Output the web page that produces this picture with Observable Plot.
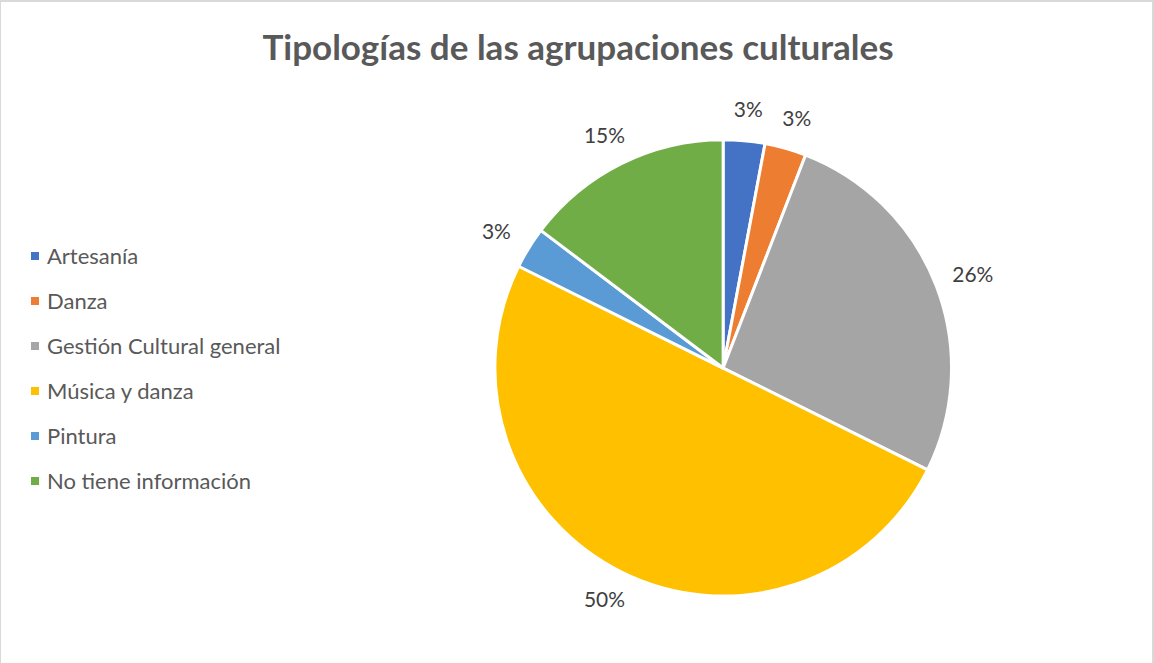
<!DOCTYPE html>
<html>
<head>
<meta charset="utf-8">
<script src="https://cdn.jsdelivr.net/npm/d3@7"></script>
<script src="https://cdn.jsdelivr.net/npm/@observablehq/plot@0.6"></script>
<style>
  html, body { margin: 0; padding: 0; background: #fff; }
  #wrap { position: relative; width: 1154px; height: 663px; box-sizing: border-box;
          border-left: 1px solid #d9d9d9; border-top: 2px solid #d9d9d9; border-right: 2px solid #d9d9d9;
          font-family: Lato, "Open Sans", sans-serif; overflow: hidden; }
  #title { position: absolute; left: 0; width: 1154px; top: 23px; text-align: center;
           font-size: 35px; font-weight: bold; color: #595959; }
  #legend { position: absolute; left: 30px; top: 240px; }
  .item { height: 45px; display: flex; align-items: flex-start; font-size: 22px; line-height: 27px; color: #595959; }
  .sw { width: 8px; height: 8px; margin-right: 8px; margin-top: 10px; }
  #chart { position: absolute; left: 0; top: 0; }
</style>
</head>
<body>
<div id="wrap">
  <div id="chart"></div>
  <div id="title"></div>
  <div id="legend"></div>
</div>
<script>
const title = "Tipologías de las agrupaciones culturales";
const categories = ["Artesanía", "Danza", "Gestión Cultural general", "Música y danza", "Pintura", "No tiene información"];
const counts = [1, 1, 9, 17, 1, 5];
const labels = ["3%", "3%", "26%", "50%", "3%", "15%"];
const colors = ["#4472C4", "#ED7D31", "#A5A5A5", "#FFC000", "#5B9BD5", "#70AD47"];

document.getElementById("title").textContent = title;
const leg = document.getElementById("legend");
categories.forEach((c, i) => {
  const d = document.createElement("div");
  d.className = "item";
  d.innerHTML = `<span class="sw" style="background:${colors[i]}"></span><span>${c}</span>`;
  leg.appendChild(d);
});

const W = 1154, H = 663;
const cx = 724, cy = 367, R = 229;
// data units: pie radius = 1
const pieGen = d3.pie().sort(null).value(d => d.value);
const table = categories.map((c, i) => ({category: c, value: counts[i], label: labels[i]}));
const arcs = pieGen(table).map(a => ({...a.data, startAngle: a.startAngle, endAngle: a.endAngle, mid: (a.startAngle + a.endAngle) / 2}));
// label placed just outside the rim, offset by half the text box
const gapR = 248 / R, halfW = 20 / R, halfH = 12 / R;
arcs.forEach(a => { a.lx = (gapR + halfW) * Math.sin(a.mid); a.ly = (gapR + halfH) * Math.cos(a.mid); });

const xDomain = [-cx / R, (W - cx) / R];
const yDomain = [-(H - cy) / R, cy / R];

const pieMark = (index, scales) => {
  const x0 = scales.x(0), y0 = scales.y(0);
  const r = scales.x(1) - scales.x(0);
  const arc = d3.arc().innerRadius(0).outerRadius(r);
  const g = d3.create("svg:g").attr("transform", `translate(${x0},${y0})`);
  g.selectAll("path").data(arcs).join("path")
    .attr("d", d => arc(d))
    .attr("fill", d => scales.color(d.category))
    .attr("stroke", "#fff")
    .attr("stroke-width", 3)
    .attr("stroke-linejoin", "round");
  return g.node();
};

const plot = Plot.plot({
  width: W, height: H,
  margin: 0,
  x: {domain: xDomain, axis: null},
  y: {domain: yDomain, axis: null},
  color: {domain: categories, range: colors},
  style: {background: "transparent", fontFamily: "Lato, 'Open Sans', sans-serif"},
  marks: [
    pieMark,
    Plot.text(arcs, {x: "lx", y: "ly", text: "label", fill: "#404040", fontSize: 21, textAnchor: "middle"})
  ]
});
document.getElementById("chart").appendChild(plot);
</script>
</body>
</html>
